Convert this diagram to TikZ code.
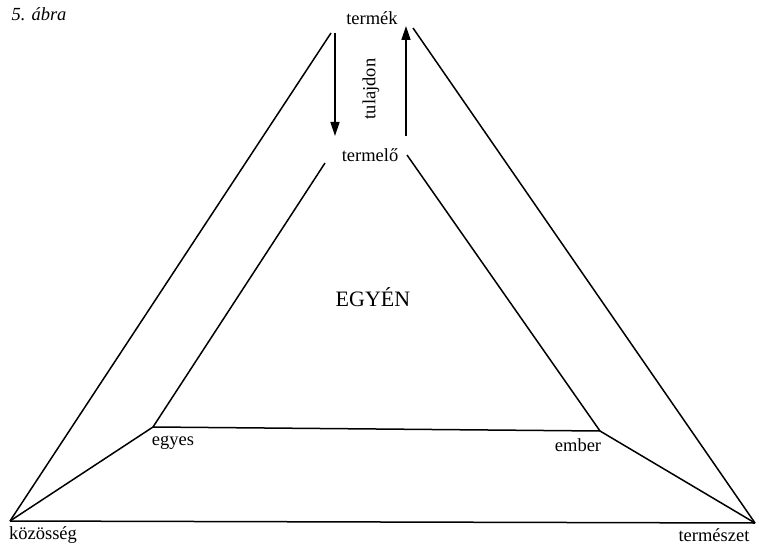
\documentclass[tikz,border=0pt]{standalone}
\usepackage{fontspec}
\setmainfont{Liberation Serif}
\usetikzlibrary{arrows.meta}
\begin{document}
\begin{tikzpicture}[x=1pt,y=-1pt,
  edge/.style={line width=1.5pt,line join=miter},
  arr/.style={line width=1.5pt,-{Triangle[length=14pt,width=9pt]}},
  lbl/.style={inner sep=0pt,font=\fontsize{18.5}{20}\selectfont},
  big/.style={inner sep=0pt,font=\fontsize{22}{24}\selectfont}]
\useasboundingbox (0,0) rectangle (759,545);
% vertices
\coordinate (ko) at (10,521);
\coordinate (te) at (755,523);
\coordinate (otl) at (331,33);
\coordinate (otr) at (413,28);
\coordinate (itl) at (325,163);
\coordinate (itr) at (407,155);
\coordinate (eg) at (153,427);
\coordinate (em) at (600,431);
\coordinate (a1s) at (335,33);
\coordinate (a1e) at (335,136);
\coordinate (a2s) at (406,136);
\coordinate (a2e) at (406,26);
% edges
\draw[edge] (ko) -- (otl);
\draw[edge] (otr) -- (te);
\draw[edge] (ko) -- (te);
\draw[edge] (itl) -- (eg) -- (em) -- (itr);
\draw[edge] (eg) -- (ko);
\draw[edge] (em) -- (te);
\draw[arr] (a1s) -- (a1e);
\draw[arr] (a2s) -- (a2e);
% labels
\node[lbl,font=\fontsize{18.5}{20}\selectfont\itshape] (abra) at (39,14) {5. ábra};
\node[lbl] (termek) at (372,18) {termék};
\node[lbl] (termelo) at (370,155) {termelő};
\node[lbl,rotate=90] (tulajdon) at (371,89) {tulajdon};
\node[big] (egyen) at (373,297) {EGYÉN};
\node[lbl] (egyes) at (173,443) {egyes};
\node[lbl] (ember) at (578,445) {ember};
\node[lbl] (kozosseg) at (43,535) {közösség};
\node[lbl] (termeszet) at (714,535) {természet};
\end{tikzpicture}
\end{document}
